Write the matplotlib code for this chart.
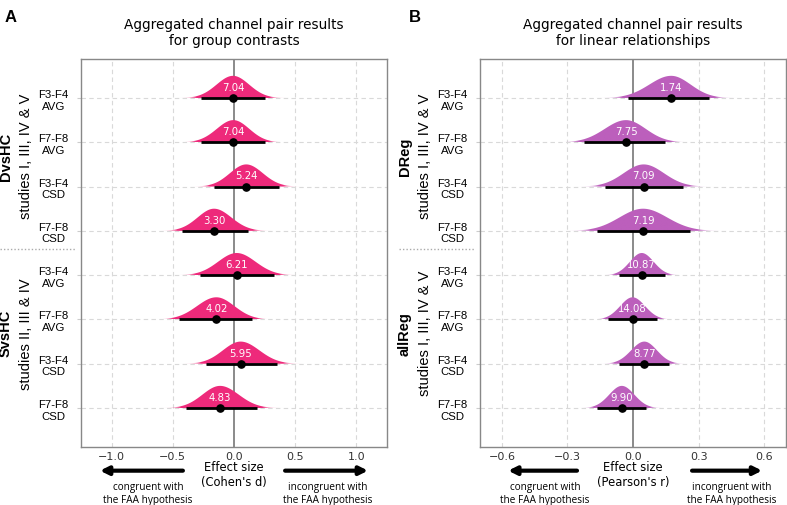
import matplotlib
matplotlib.use('Agg')
import matplotlib.pyplot as plt
from matplotlib.colors import to_rgb
import numpy as np

# rows listed top to bottom
row_labels = ['F3-F4\nAVG', 'F7-F8\nAVG', 'F3-F4\nCSD', 'F7-F8\nCSD',
              'F3-F4\nAVG', 'F7-F8\nAVG', 'F3-F4\nCSD', 'F7-F8\nCSD']

# panel A: group contrasts (Cohen's d)
d_mean = [-0.008, -0.005, 0.100, -0.163, 0.022, -0.144, 0.054, -0.114]
d_low = [-0.270, -0.270, -0.160, -0.425, -0.275, -0.452, -0.229, -0.395]
d_high = [0.250, 0.250, 0.365, 0.114, 0.324, 0.144, 0.354, 0.185]
d_text = ['7.04', '7.04', '5.24', '3.30', '6.21', '4.02', '5.95', '4.83']
d_groups = [('DvsHC', 'studies I, III, IV & V'), ('SvsHC', 'studies II, III & IV')]

# panel B: linear relationships (Pearson's r)
r_mean = [0.175, -0.032, 0.049, 0.046, 0.040, -0.002, 0.052, -0.051]
r_low = [-0.021, -0.222, -0.130, -0.165, -0.066, -0.113, -0.066, -0.164]
r_high = [0.349, 0.145, 0.230, 0.262, 0.147, 0.110, 0.165, 0.061]
r_text = ['1.74', '7.75', '7.09', '7.19', '10.87', '14.08', '8.77', '9.90']
r_groups = [('DReg', 'studies I, III, IV & V'), ('allReg', 'studies I, III, IV & V')]

W, H = 787, 506
fig = plt.figure(figsize=(W / 100, H / 100), dpi=100)

SANS = 'Liberation Sans'


def px_axes(left, right, top, bottom):
    return fig.add_axes([left / W, 1 - bottom / H, (right - left) / W, (bottom - top) / H])


def slab(ax, xs, y, dens, color):
    # filled half-density with tails fading out
    poly = ax.fill_between(xs, y, y + dens, facecolor='none', lw=0)
    rgba = np.zeros((1, len(xs), 4))
    rgba[..., :3] = to_rgb(color)
    rgba[0, :, 3] = np.clip(dens / dens.max() / 0.08, 0, 1)
    im = ax.imshow(rgba, extent=[xs[0], xs[-1], y, y + dens.max()],
                   aspect='auto', origin='lower', zorder=2, interpolation='bilinear')
    im.set_clip_path(poly.get_paths()[0], transform=ax.transData)


def panel(ax, mean, low, high, texts, groups, color, xlim, xticks, title,
          xlabel, letter, letter_x, arrows, cong_x, incong_x):
    n = len(mean)
    ys = np.arange(n, 0, -1)

    for y in ys:
        ax.axhline(y, color='#d9d9d9', lw=0.8, ls=(0, (4, 3)), zorder=0)
    for xt in xticks:
        if xt != 0:
            ax.axvline(xt, color='#d9d9d9', lw=0.8, ls=(0, (4, 3)), zorder=0)
    ax.axvline(0, color='#777777', lw=1.2, zorder=1)

    for y, m, lo, hi, t in zip(ys, mean, low, high, texts):
        sl = (m - lo) / 1.96
        sr = (hi - m) / 1.96
        xs = np.linspace(m - 3.5 * sl, m + 3.5 * sr, 300)
        sd = np.where(xs < m, sl, sr)
        dens = 0.5 * np.exp(-0.5 * ((xs - m) / sd) ** 2)
        slab(ax, xs, y, dens, color)
        ax.plot([lo, hi], [y, y], color='black', lw=2, solid_capstyle='butt', zorder=3)
        ax.plot(m, y, 'o', color='black', ms=5.2, zorder=4)
        ax.text(m, y + 0.25, t, color='white', fontsize=7.3, ha='center',
                va='center', zorder=5)

    ax.set_xlim(*xlim)
    ax.set_ylim(0.12, 8.88)

    ax.set_yticks(ys)
    ax.set_yticklabels(row_labels, fontfamily=SANS, fontsize=8.2,
                       multialignment='center')
    ax.tick_params(axis='y', length=3, color='#cccccc', pad=6)
    ax.set_xticks(xticks)
    ax.set_xticklabels(['%.1f' % v if v >= 0 else '\u2212%.1f' % -v for v in xticks])
    ax.tick_params(axis='x', length=0, pad=3, labelsize=8, labelcolor='#333333')
    for s in ax.spines.values():
        s.set_color('#888888')
        s.set_linewidth(1)

    ax.set_title(title, fontsize=9.8, pad=11, linespacing=1.15)

    # group labels on the left
    trans = ax.get_yaxis_transform()
    for yc, (bold, sub) in zip([6.7, 2.7], groups):
        ax.text(-0.245, yc, bold, transform=trans, rotation=90, ha='center',
                va='center', fontfamily=SANS, fontsize=10.5, fontweight='bold')
        ax.text(-0.18, yc, sub, transform=trans, rotation=90, ha='center',
                va='center', fontfamily=SANS, fontsize=10.5)
    ax.plot([-0.265, -0.015], [4.6, 4.6], transform=trans, clip_on=False,
            color='#aaaaaa', lw=1, ls=(0, (1, 1.5)))

    # bottom annotations
    ax.text(0.5, -0.07, xlabel, transform=ax.transAxes, ha='center', va='center',
            fontsize=8.3, linespacing=1.2)
    for x0, x1 in arrows:
        ax.annotate('', xy=(x1, -0.061), xytext=(x0, -0.061),
                    xycoords='axes fraction', textcoords='axes fraction',
                    arrowprops=dict(arrowstyle='-|>', lw=3, color='black',
                                    mutation_scale=12, shrinkA=0, shrinkB=0))
    ax.text(cong_x, -0.118, 'congruent with\nthe FAA hypothesis', transform=ax.transAxes,
            ha='center', va='center', fontfamily='Open Sans', fontsize=7.2,
            linespacing=1.25)
    ax.text(incong_x, -0.118, 'incongruent with\nthe FAA hypothesis', transform=ax.transAxes,
            ha='center', va='center', fontfamily='Open Sans', fontsize=7.2,
            linespacing=1.25)

    fig.text(letter_x / W, 1 - 18 / H, letter, fontfamily=SANS, fontsize=12,
             fontweight='bold', ha='center', va='center')


ax1 = px_axes(81, 387, 60, 448)
panel(ax1, d_mean, d_low, d_high, d_text, d_groups, '#EE2A7B', (-1.25, 1.25),
      [-1.0, -0.5, 0.0, 0.5, 1.0],
      'Aggregated channel pair results\nfor group contrasts',
      "Effect size\n(Cohen's d)", 'A', 11,
      [(0.333, 0.062), (0.667, 0.938)], 0.219, 0.807)

ax2 = px_axes(480, 786, 60, 448)
panel(ax2, r_mean, r_low, r_high, r_text, r_groups, '#BC5FBC', (-0.7, 0.7),
      [-0.6, -0.3, 0.0, 0.3, 0.6],
      'Aggregated channel pair results\nfor linear relationships',
      "Effect size\n(Pearson's r)", 'B', 415,
      [(0.317, 0.092), (0.693, 0.922)], 0.212, 0.824)

fig.savefig('out.png', dpi=100)
